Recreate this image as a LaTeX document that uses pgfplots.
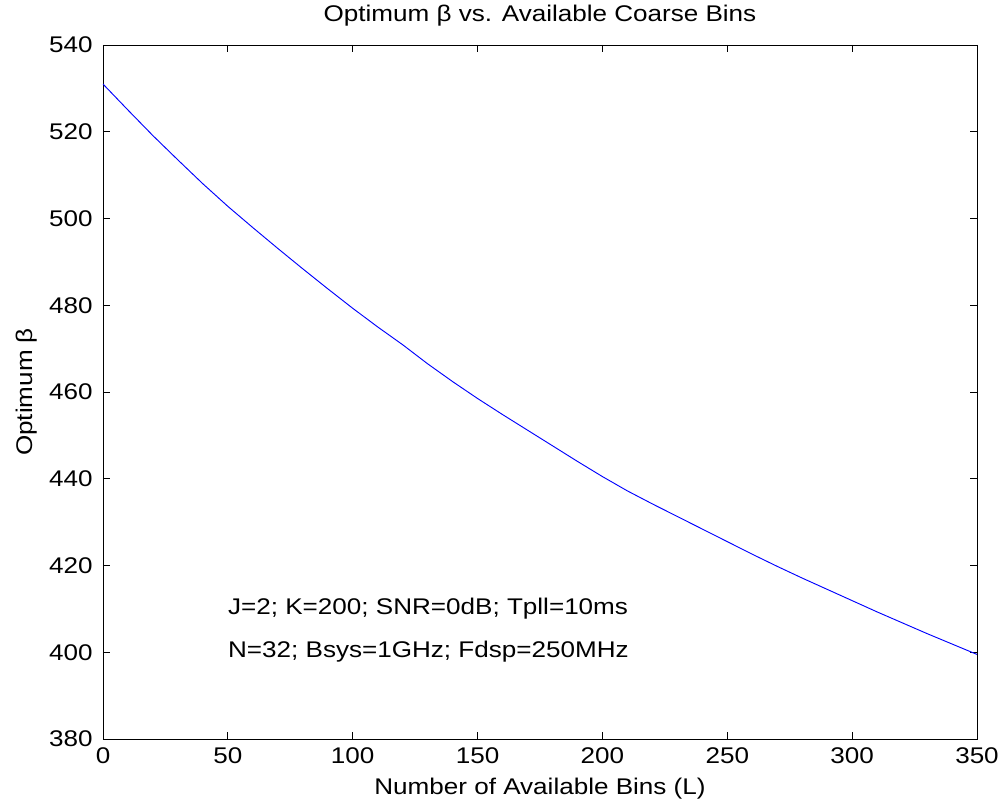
\documentclass[border=0pt]{standalone}
\usepackage{fontspec}
\setmainfont{Liberation Sans}[FakeStretch=1.15]
\usepackage{pgfplots}
\pgfplotsset{compat=1.18}
\usetikzlibrary{calc}
\begin{document}
\fontsize{17}{20}\selectfont
\begin{tikzpicture}
\begin{axis}[
  scale only axis,
  width=655.5pt, height=520.5pt,
  xmin=0, xmax=350, ymin=380, ymax=540,
  xtick={0,50,...,350}, ytick={380,400,...,540},
  /pgf/number format/assume math mode=true,
  /pgf/number format/1000 sep={},
  tick align=inside,
  major tick length=5pt,
  axis line style={black, line width=0.7pt},
  tick style={black, line width=0.7pt},
  ticklabel style={font=\fontsize{17}{20}\selectfont},
  yticklabel style={xshift=-2pt},
  xticklabel style={yshift=-1pt},
  title={Optimum β vs. Available Coarse Bins},
  title style={at={(axis description cs:0.5,1.0230)}, anchor=base, font=\fontsize{17}{20}\selectfont},
  xlabel={Number of Available Bins (L)},
  xlabel style={at={(axis description cs:0.5,-0.0800)}, anchor=base, font=\fontsize{17}{20}\selectfont},
  ylabel={Optimum β},
  ylabel style={at={(axis description cs:-0.0812,0.5)}, anchor=base, font=\fontsize{17}{20}\selectfont},
]
\addplot[blue, line width=0.7pt] coordinates {
(0,531.0) (10,525.0) (20,519.1) (30,513.5) (40,508.0) (50,502.8)
(60,497.9) (70,493.1) (80,488.4) (90,483.8) (100,479.3) (110,475.0)
(120,470.9) (130,466.5) (140,462.4) (150,458.5) (160,454.8) (170,451.2)
(180,447.6) (190,444.0) (200,440.5) (210,437.2) (220,434.2) (230,431.3)
(240,428.4) (250,425.5) (260,422.6) (270,419.8) (280,417.1) (290,414.5)
(300,411.9) (310,409.3) (320,406.8) (330,404.3) (340,401.9) (350,399.5)
};
\node[anchor=base west, inner sep=0pt, font=\fontsize{17}{20}\selectfont] at (axis cs:50,408.8) {J=2; K=200; SNR=0dB; Tpll=10ms};
\node[anchor=base west, inner sep=0pt, font=\fontsize{17}{20}\selectfont] at (axis cs:50,398.7) {N=32; Bsys=1GHz; Fdsp=250MHz};
\end{axis}
\pgfresetboundingbox
\path[use as bounding box] ($(current axis.south west)+(-77.25pt,-53.25pt)$) rectangle ($(current axis.north east)+(19.5pt,33.75pt)$);
\end{tikzpicture}
\end{document}
